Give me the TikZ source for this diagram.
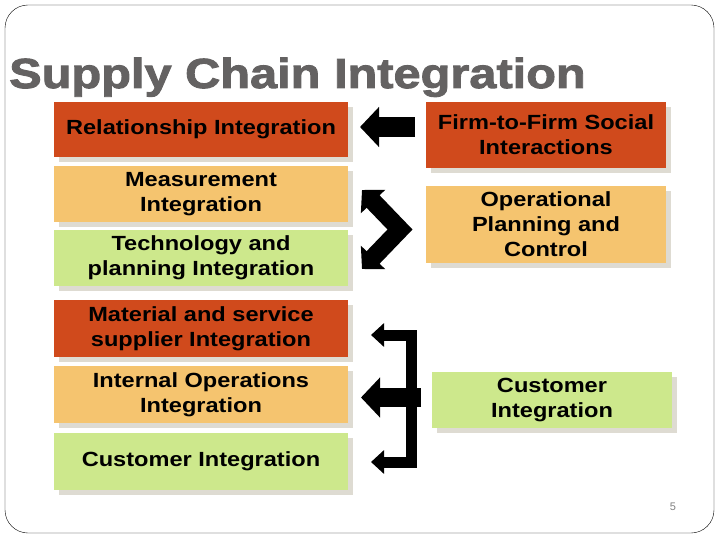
\documentclass[tikz,border=0pt]{standalone}
\usepackage{fontspec}
\setmainfont{Liberation Sans}
\newfontfamily\wideface[FakeStretch=1.15]{Liberation Sans}
\newfontfamily\headface[FakeStretch=1.16, FakeBold=2.2]{Liberation Sans}
\usetikzlibrary{arrows.meta,shadows}
\definecolor{rust}{RGB}{208,74,28}
\definecolor{tan}{RGB}{245,196,111}
\definecolor{lime}{RGB}{205,232,140}
\definecolor{shade}{RGB}{222,219,210}
\definecolor{slate}{RGB}{100,98,98}
\tikzset{box/.style={inner sep=0pt, align=center, minimum width=294pt, minimum height=56pt,
    font=\wideface\bfseries\fontsize{20.5}{25}\selectfont,
    general shadow={fill=shade, shadow xshift=5pt, shadow yshift=-5pt}},
  rbox/.style={box, minimum width=240pt},
  blk/.style={line width=#1, line join=miter, draw=black},
  bighead/.tip={Triangle[length=19pt, width=39pt]},
  midhead/.tip={Triangle[length=16pt, width=33pt]},
  smallhead/.tip={Triangle[length=13pt, width=23pt]}}

\begin{document}
\begin{tikzpicture}[x=1pt, y=-1pt]
  \useasboundingbox (0,0) rectangle (720,540);
  \draw[rounded corners=23pt] (5,5) rectangle (714,533);
  \node[font=\headface\bfseries\fontsize{42}{42}\selectfont, text=slate, anchor=base west, inner sep=0pt] (ttl) at (9,88) {Supply Chain Integration};
  % left column
  \node[box, fill=rust, minimum height=55pt] (rel) at (201,129.5) {Relationship Integration};
  \node[box, fill=tan] (meas) at (201,194) {Measurement\\Integration};
  \node[box, fill=lime] (tech) at (201,258) {Technology and\\planning Integration};
  \node[box, fill=rust, minimum height=57pt] (mat) at (201,328.5) {Material and service\\supplier Integration};
  \node[box, fill=tan, minimum height=57pt] (intl) at (201,394.5) {Internal Operations\\Integration};
  \node[box, fill=lime, minimum height=57pt] (cust) at (201,461.5) {Customer Integration};
  % right column
  \node[rbox, fill=rust, minimum height=66pt] (firm) at (546,135) {Firm-to-Firm Social\\Interactions};
  \node[rbox, fill=tan, minimum height=77pt] (oper) at (546,224.5) {Operational\\Planning and\\Control};
  \node[rbox, fill=lime] (rcust) at (552,400) {Customer\\Integration};
  % arrow ends
  \coordinate (a1) at (415,127);   \coordinate (b1) at (360,127);
  \coordinate (a2) at (362,190);   \coordinate (m2) at (400,229.5); \coordinate (b2) at (362,269);
  \coordinate (a3) at (371,335);   \coordinate (b3) at (371,462);
  \coordinate (a4) at (421,397.5); \coordinate (b4) at (361,397.5);
  % social interactions -> relationship
  \draw[blk=20pt, -bighead] (a1) -- (b1);
  % planning and control -> measurement, technology
  \draw[blk=18pt, midhead-midhead] (a2) -- (m2) -- (b2);
  % customer -> material, internal, customer
  \draw[blk=11pt, smallhead-smallhead] (a3) -- (411.5,335) -- (411.5,462) -- (b3);
  \draw[blk=19pt, -bighead] (a4) -- (b4);
  \node[font=\fontsize{11}{11}\selectfont, text=gray] (pg) at (673,507) {5};
\end{tikzpicture}
\end{document}
